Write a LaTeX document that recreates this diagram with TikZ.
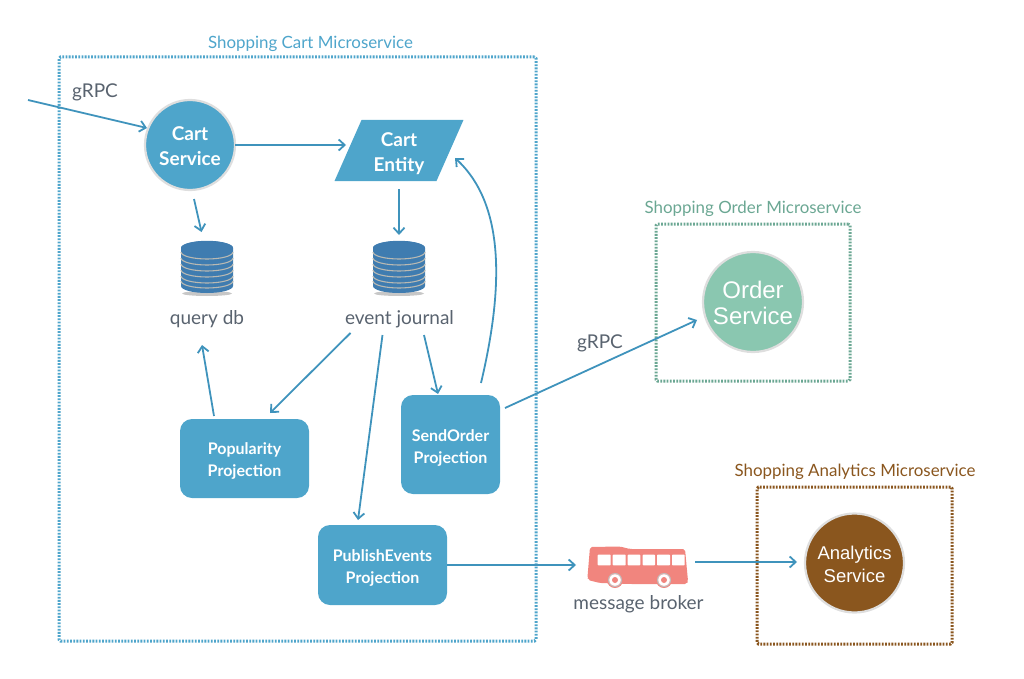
\documentclass[tikz,border=0pt]{standalone}
\usepackage{fontspec}
\setmainfont{Lato}
\newfontfamily\helv{Liberation Sans}
\usetikzlibrary{arrows.meta,shapes.geometric}
\definecolor{cblue}{HTML}{4EA5CB}
\definecolor{lblue}{HTML}{3F93BC}
\definecolor{cgreen}{HTML}{8AC7B0}
\definecolor{tgreen}{HTML}{6BA793}
\definecolor{cbrown}{HTML}{8A561E}
\definecolor{txt}{HTML}{59636F}
\definecolor{dbblue}{HTML}{3F7CB0}
\definecolor{dbring}{HTML}{B9B9B2}
\definecolor{busred}{HTML}{F1857E}
\newcommand{\tdown}[1]{\rule{0pt}{#1pt}}
\tikzset{
  conn/.style={draw=lblue,line width=1.8pt,-{Straight Barb[length=6pt,width=11pt,line width=1.8pt]}},
  msbox/.style={draw=#1,line width=3pt,dash pattern=on 1.8pt off 1.4pt,rounded corners=1.5pt,inner sep=0pt,outer sep=0pt,anchor=north west},
  mstitle/.style={text=#1,font=\fontsize{16.9}{19}\selectfont,inner sep=0pt},
  svc/.style={circle,draw=black!13,line width=2.2pt,fill=#1,inner sep=0pt,outer sep=0pt,text=white,align=center},
  proj/.style={rectangle,rounded corners=12pt,fill=cblue,text=white,align=center,inner sep=0pt,font=\bfseries\fontsize{16}{22}\selectfont},
  lbl/.style={text=txt,font=\fontsize{19}{22}\selectfont,inner sep=0pt},
  ghost/.style={inner sep=0pt,minimum width=52pt,minimum height=52pt},
  dbstack/.pic={
    \fill[black!22] (0,26.5) ellipse (25 and 2.5);
    \fill[dbblue] (-26,-19) -- (-26,19) arc[start angle=180,end angle=360,x radius=26,y radius=-7] -- (26,-19) arc[start angle=0,end angle=180,x radius=26,y radius=-7] -- cycle;
    \fill[dbblue] (0,-19) ellipse (26 and 7.2);
    \foreach \yy in {-15,-9,-3,3,9,14}{
      \draw[dbring,line width=1.1pt] (-26,\yy) arc[start angle=180,end angle=360,x radius=26,y radius=-7];
    }
  }
}
\begin{document}
\begin{tikzpicture}[x=1pt,y=-1pt]
\useasboundingbox (0,0) rectangle (1024,679);
% boundaries
\node[msbox=cblue,minimum width=477pt,minimum height=584pt] (cartbox) at (59,57) {};
\node[msbox=tgreen,minimum width=194pt,minimum height=157pt] (orderbox) at (656,224) {};
\node[msbox=cbrown,minimum width=195pt,minimum height=157pt] (anbox) at (757,487) {};
\node[mstitle=cblue] (carttitle) at (310.5,43.5) {Shopping Cart Microservice};
\node[mstitle=tgreen] (ordertitle) at (753,209) {Shopping Order Microservice};
\node[mstitle=cbrown] (antitle) at (855,472) {Shopping Analytics Microservice};
% services
\node[svc=cblue,minimum size=90pt,font=\fontsize{19}{25}\selectfont\bfseries] (cs) at (190,145) {\tdown{16}Cart\\Service};
\node[trapezium,trapezium left angle=69.3,trapezium right angle=110.7,trapezium stretches=true,
  minimum width=130pt,minimum height=61pt,inner sep=0pt,fill=cblue,text=white,align=center,
  font=\fontsize{19}{25}\selectfont\bfseries] (ce) at (399,150.5) {\tdown{20}Cart\\Entity};
\node[svc=cgreen,minimum size=100pt,font=\helv\fontsize{24}{26}\selectfont] (os) at (753,302) {\tdown{19.5}Order\\Service};
\node[svc=cbrown,minimum size=99pt,font=\helv\fontsize{18.5}{23}\selectfont] (as) at (854.5,563) {\tdown{15.5}Analytics\\Service};
% databases
\node[ghost] (qdb) at (207,267) {};
\pic at (207,267) {dbstack};
\node[ghost] (ej) at (399,267) {};
\pic at (399,267) {dbstack};
\node[lbl] (qdbl) at (207,319.5) {query db};
\node[lbl] (ejl) at (399.5,319.5) {event journal};
% projections
\node[proj,minimum width=129pt,minimum height=79pt] (pop) at (244.5,458.5) {\tdown{16.5}Popularity\\Projection};
\node[proj,minimum width=99pt,minimum height=99pt] (so) at (450.5,444.5) {\tdown{18.5}SendOrder\\Projection};
\node[proj,minimum width=129pt,minimum height=80pt] (pe) at (382.5,565) {\tdown{17}PublishEvents\\Projection};
% bus
\node[inner sep=0pt,minimum width=101pt,minimum height=38pt] (bus) at (638,565) {};
\fill[busred,rounded corners=2pt] (588,580) -- (587.5,577) -- (590,547) -- (620,546.5) -- (630,549) -- (685,549) -- (688,581) -- (687,584) -- (630,584) -- (600,583) -- cycle;
\foreach \xa/\xb in {597.7/610.7,612.7/625.7,627.7/640.3,642.7/655,657/670,672/684.7}{
  \fill[white,rounded corners=.7pt] (\xa,554.7) rectangle (\xb,565.3);
}
\foreach \xx in {615,664}{
  \fill[busred] (\xx,580) circle (8);
  \draw[black!25,line width=1pt] (\xx,580) circle (6.5);
  \fill[white] (\xx,580) circle (5.8);
  \fill[busred] (\xx,580) circle (3);
}
\node[lbl] (busl) at (638.5,604.5) {message broker};
% labels
\node[lbl] (g1) at (95,92.5) {gRPC};
\node[lbl] (g2) at (600,343.5) {gRPC};
% connectors
\coordinate (src) at (28,100);
\draw[conn] (src) -- ([shift={(-43,-17)}]cs.center);
\draw[conn] ([shift={(45,0)}]cs.center) -- ([shift={(-53,-5.5)}]ce.center);
\draw[conn] ([shift={(4,54)}]cs.center) -- ([shift={(-5.5,-35)}]qdb.center);
\draw[conn] ([shift={(0,38.5)}]ce.center) -- ([shift={(0,-32)}]ej.center);
\draw[conn] ([shift={(-49,13.5)}]ejl.center) -- ([shift={(25.5,-45.5)}]pop.center);
\draw[conn] ([shift={(-17,15.5)}]ejl.center) -- ([shift={(-24.5,-45)}]pe.center);
\draw[conn] ([shift={(24.5,15.5)}]ejl.center) -- ([shift={(-12.5,-50.5)}]so.center);
\draw[conn] ([shift={(-30.5,-42.5)}]pop.center) -- ([shift={(-5,25.5)}]qdbl.center);
\draw[conn] ([shift={(30.5,-61.5)}]so.center) .. controls (503,290) and (506,205) .. ([shift={(56,7.5)}]ce.center);
\draw[conn] ([shift={(54.5,-36.5)}]so.center) -- ([shift={(-56,18)}]os.center);
\draw[conn] ([shift={(64.5,0)}]pe.center) -- ([shift={(-62,0)}]bus.center);
\draw[conn] ([shift={(57,-3)}]bus.center) -- ([shift={(-57.5,-1)}]as.center);
\end{tikzpicture}
\end{document}
